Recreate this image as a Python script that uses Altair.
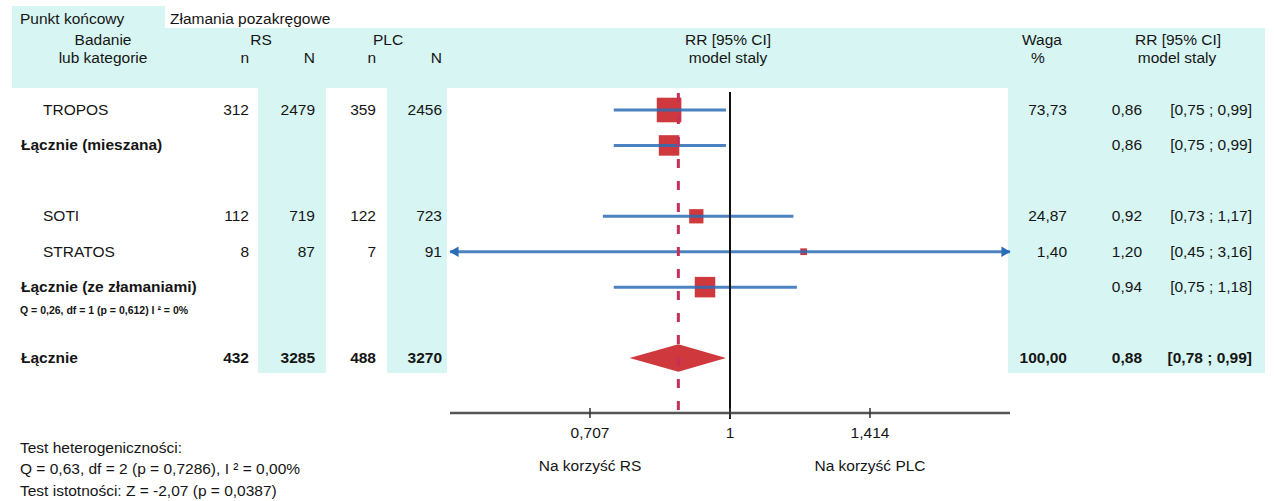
import altair as alt
import pandas as pd

# ---- study table -------------------------------------------------------
labels = ["TROPOS", "Łącznie (mieszana)", "SOTI", "STRATOS",
          "Łącznie (ze złamaniami)", "Łącznie"]
row_index = [0, 1, 3, 4, 5, 7]
row_kind = ["study", "subtotal", "study", "study", "subtotal", "total"]
rs_n = [312, None, 112, 8, None, 432]
rs_N = [2479, None, 719, 87, None, 3285]
plc_n = [359, None, 122, 7, None, 488]
plc_N = [2456, None, 723, 91, None, 3270]
weight_pct = [73.73, None, 24.87, 1.40, None, 100.00]
rr = [0.86, 0.86, 0.92, 1.20, 0.94, 0.88]
ci_low = [0.75, 0.75, 0.73, 0.45, 0.75, 0.78]
ci_high = [0.99, 0.99, 1.17, 3.16, 1.18, 0.99]

# ---- axis --------------------------------------------------------------
x_domain = [0.5, 2.0]
tick_values = [0.7071, 1.0, 1.4142]
tick_labels = ["0,707", "1", "1,414"]
favour_labels = ["Na korzyść RS", "Na korzyść PLC"]
favour_at = [0.7071, 1.4142]

subgroup_note = "Q = 0,26, df = 1 (p = 0,612) I ² = 0%"
footer_lines = ["Test heterogeniczności:",
                "Q = 0,63, df = 2 (p = 0,7286), I ² = 0,00%",
                "Test istotności: Z = -2,07 (p = 0,0387)"]

FONT = "Liberation Sans"
FS = 15.5
INK = "#151515"
CYAN = "#d7f5f3"
BLUE = "#2a6db5"
RED = "#cf383d"
DASH = "#c4305a"


def pl(v, nd=2):
    return f"{v:.{nd}f}".replace(".", ",")


def txt(v):
    return "" if v is None else str(v)


df = pd.DataFrame({
    "label": labels, "row": row_index, "kind": row_kind,
    "rs_n": [txt(v) for v in rs_n], "rs_N": [txt(v) for v in rs_N],
    "plc_n": [txt(v) for v in plc_n], "plc_N": [txt(v) for v in plc_N],
    "weight": ["" if w is None else pl(w) for w in weight_pct],
    "rr": rr, "lo": ci_low, "hi": ci_high,
})
df["rr_txt"] = [pl(v) for v in rr]
df["ci_txt"] = [f"[{pl(a)} ; {pl(b)}]" for a, b in zip(ci_low, ci_high)]
df["lo_c"] = df["lo"].clip(lower=x_domain[0])
df["hi_c"] = df["hi"].clip(upper=x_domain[1])
# marker area follows the study weight; subgroup summaries get a fixed box
df["size"] = [max(w * 8.2, 45) if k == "study" else 420
              for w, k in zip([w or 0 for w in weight_pct], row_kind)]

xs = alt.Scale(type="log", domain=x_domain, range=[450, 1010], nice=False)
ys = alt.Scale(domain=[0, 7], range=[110, 358], nice=False, zero=False)
X = lambda f: alt.X(f, type="quantitative", scale=xs, axis=None)
Y = lambda f: alt.Y(f, type="quantitative", scale=ys, axis=None)

# ---- shaded panels -----------------------------------------------------
panels = pd.DataFrame({
    "x": [12, 12, 258, 387, 1008],
    "x2": [165, 1265, 326, 447, 1265],
    "y": [6, 28, 88, 88, 88],
    "y2": [30, 88, 373, 373, 373],
})
bg = alt.Chart(panels).mark_rect(color=CYAN).encode(
    x=alt.X("x:Q", scale=None, axis=None), x2="x2:Q",
    y=alt.Y("y:Q", scale=None, axis=None), y2="y2:Q")


def header(text, x, y, align="center", weight="normal", size=FS):
    return alt.Chart(pd.DataFrame({"t": [text]})).mark_text(
        align=align, baseline="middle", font=FONT, fontSize=size,
        fontWeight=weight, color=INK
    ).encode(x=alt.value(x), y=alt.value(y), text="t:N")


heads = [
    header("Punkt końcowy", 20, 19, "left"),
    header("Złamania pozakręgowe", 170, 19, "left"),
    header("Badanie", 103, 40), header("lub kategorie", 103, 58),
    header("RS", 261, 40), header("PLC", 388, 40),
    header("n", 249, 58, "right"), header("N", 315, 58, "right"),
    header("n", 376, 58, "right"), header("N", 442, 58, "right"),
    header("RR [95% CI]", 728, 40), header("model staly", 728, 58),
    header("Waga", 1042, 40), header("%", 1038, 58),
    header("RR [95% CI]", 1178, 40), header("model staly", 1177, 58),
    header(subgroup_note, 20, 311, "left", "bold", 10.5),
    header(footer_lines[0], 20, 448, "left"),
    header(footer_lines[1], 20, 469, "left"),
    header(footer_lines[2], 20, 491, "left"),
]


def column(field, x, align, bold_expr, base_filter="true"):
    base = alt.Chart(df).transform_filter(f"datum.{field} != ''").transform_filter(base_filter)
    out = []
    for expr, w in ((bold_expr, "bold"), (f"!({bold_expr})", "normal")):
        out.append(base.transform_filter(expr).mark_text(
            align=align, baseline="middle", font=FONT, fontSize=FS,
            fontWeight=w, color=INK
        ).encode(x=alt.value(x), y=Y("row"), text=f"{field}:N"))
    return out


is_total = "datum.kind == 'total'"
cols = []
# summary labels sit at the margin, study names are indented
cols += column("label", 21, "left", "true", "datum.kind != 'study'")
cols += column("label", 43, "left", "false", "datum.kind == 'study'")
cols += column("rs_n", 249, "right", is_total)
cols += column("rs_N", 315, "right", is_total)
cols += column("plc_n", 376, "right", is_total)
cols += column("plc_N", 442, "right", is_total)
cols += column("weight", 1067, "right", is_total)
cols += column("rr_txt", 1142, "right", is_total)
cols += column("ci_txt", 1252, "right", is_total)

# ---- forest plot -------------------------------------------------------
ci = df[df["kind"] != "total"]
squares = alt.Chart(ci).mark_square(color=RED, opacity=1).encode(
    x=X("rr"), y=Y("row"), size=alt.Size("size:Q", scale=None, legend=None))
whiskers = alt.Chart(ci).mark_rule(color=BLUE, strokeWidth=3, opacity=0.85).encode(
    x=X("lo_c"), x2="hi_c", y=Y("row"))
left_arrow = alt.Chart(ci).transform_filter(f"datum.lo < {x_domain[0]}").mark_point(
    shape="triangle-left", filled=True, color=BLUE, size=110, opacity=1, xOffset=4
).encode(x=X("lo_c"), y=Y("row"))
right_arrow = alt.Chart(ci).transform_filter(f"datum.hi > {x_domain[1]}").mark_point(
    shape="triangle-right", filled=True, color=BLUE, size=110, opacity=1, xOffset=-4
).encode(x=X("hi_c"), y=Y("row"))

tot = df[df["kind"] == "total"].iloc[0]
half = 0.39
diamond_df = pd.DataFrame({
    "x": [tot["lo"], tot["rr"], tot["hi"]],
    "y": [tot["row"], tot["row"] - half, tot["row"]],
    "y2": [tot["row"], tot["row"] + half, tot["row"]],
})
diamond = alt.Chart(diamond_df).mark_area(color=RED, orient="vertical", opacity=1).encode(
    x=X("x"), y=Y("y"), y2="y2")

pooled = alt.Chart(df[df["kind"] == "total"]).mark_rule(
    color=DASH, strokeWidth=3, strokeDash=[9, 13]
).encode(x=X("rr"), y=alt.value(93), y2=alt.value(413))

null_line = alt.Chart(pd.DataFrame({"v": [1.0]})).mark_rule(
    color="#111111", strokeWidth=2
).encode(x=X("v"), y=alt.value(92), y2=alt.value(419))

axis_df = pd.DataFrame({"a": [x_domain[0]], "b": [x_domain[1]]})
axis_line = alt.Chart(axis_df).mark_rule(color="#555555", strokeWidth=2.5).encode(
    x=X("a"), x2="b", y=alt.value(413))
ticks_df = pd.DataFrame({"v": tick_values, "t": tick_labels})
ticks = alt.Chart(ticks_df).mark_rule(color="#333333", strokeWidth=1.5).encode(
    x=X("v"), y=alt.value(408), y2=alt.value(418))
tick_text = alt.Chart(ticks_df).mark_text(
    baseline="middle", font=FONT, fontSize=FS, color=INK
).encode(x=X("v"), y=alt.value(433), text="t:N")
favour = alt.Chart(pd.DataFrame({"v": favour_at, "t": favour_labels})).mark_text(
    baseline="middle", font=FONT, fontSize=FS, color=INK
).encode(x=X("v"), y=alt.value(466), text="t:N")

chart = alt.layer(
    bg, *heads, *cols,
    squares, whiskers, left_arrow, right_arrow, diamond,
    pooled, null_line, axis_line, ticks, tick_text, favour,
).properties(
    width=1274, height=501, padding=0,
    autosize=alt.AutoSizeParams(type="none"),
    background="white",
).configure_view(stroke=None)

chart.save("out.html", embed_options={"renderer": "svg", "actions": False})
